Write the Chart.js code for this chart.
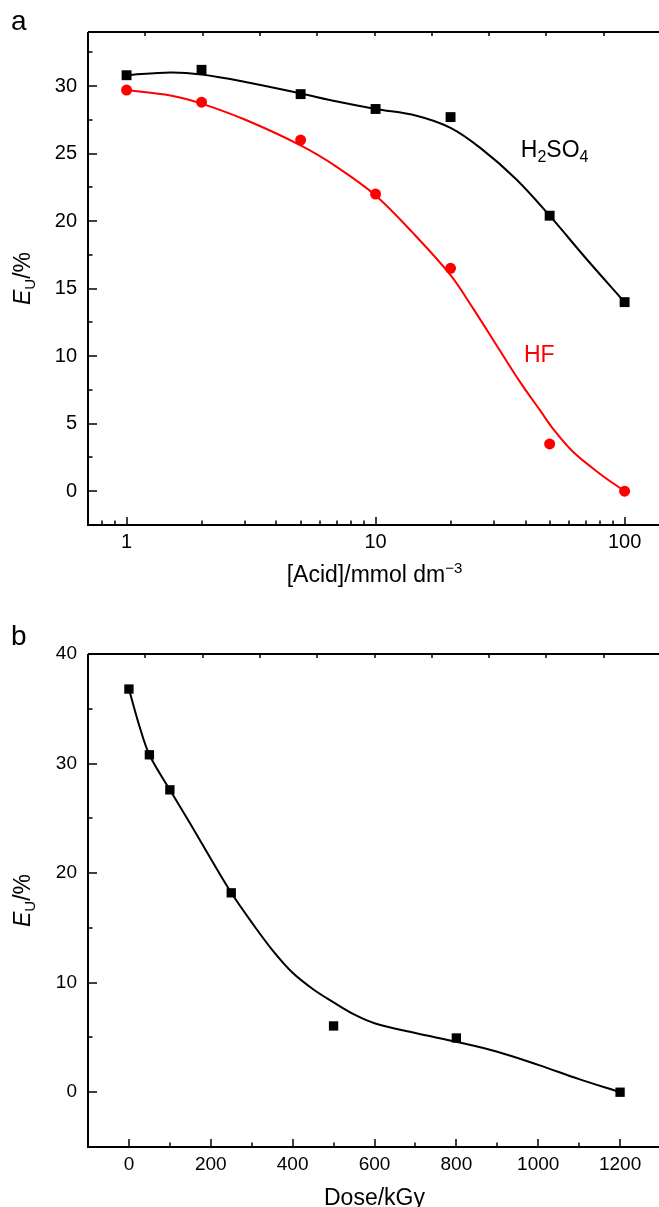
<!DOCTYPE html>
<html>
<head>
<meta charset="utf-8">
<script src="https://cdn.jsdelivr.net/npm/chart.js@4.4.0/dist/chart.umd.min.js"></script>
<style>
  body { margin: 0; background: #fff; overflow: hidden; width: 659px; height: 1207px; position: relative; }
  canvas { position: absolute; left: 0; }
  #chartA { top: 0; }
  #chartB { top: 600px; }
</style>
</head>
<body>
<canvas id="chartA" width="661" height="600"></canvas>
<canvas id="chartB" width="661" height="607"></canvas>
<script>
const FONT = "'Liberation Sans', Arial, Helvetica, sans-serif"

// panel a - uranium extraction vs acid concentration
const acidConc = [1, 2, 5, 10, 20, 50, 100]
const h2so4Eu = [30.8, 31.2, 29.4, 28.3, 27.7, 20.4, 14.0]
const hfEu = [29.7, 28.8, 26.0, 22.0, 16.5, 3.5, 0]
// fitted curves
const h2so4FitConc = [1, 1.5, 2, 3, 5, 7, 10, 14.6, 20, 26.4, 36.7, 50, 71, 100]
const h2so4FitEu = [30.8, 31.0, 30.85, 30.3, 29.45, 28.85, 28.3, 27.8, 26.9, 25.4, 23.1, 20.4, 17.1, 14.0]
const hfFitConc = [1, 1.5, 2, 3, 5, 7, 10, 14, 20, 24.7, 31.6, 38, 45.7, 51.7, 62.2, 79.5, 100]
const hfFitEu = [29.7, 29.3, 28.7, 27.5, 25.6, 24.0, 21.9, 19.2, 16.0, 13.5, 10.4, 8.1, 6.0, 4.6, 2.9, 1.3, 0]
const acidTicks = [1, 10, 100]
const acidMinorTicks = [0.8, 0.9, 2, 3, 4, 5, 6, 7, 8, 9, 20, 30, 40, 50, 60, 70, 80, 90]
const euTicksA = [0, 5, 10, 15, 20, 25, 30]
const euMinorA = [2.5, 7.5, 12.5, 17.5, 22.5, 27.5, 32.5]

// panel b - extraction vs absorbed dose
const dose = [0, 50, 100, 250, 500, 800, 1200]
const doseEu = [36.8, 30.8, 27.6, 18.2, 6.05, 4.95, 0]
const doseFit = [0, 25, 50, 100, 150, 200, 250, 300, 350, 400, 450, 500, 550, 600, 700, 800, 900, 1000, 1100, 1200]
const doseFitEu = [36.8, 33.5, 30.8, 27.6, 24.5, 21.3, 18.2, 15.5, 13.0, 10.9, 9.4, 8.2, 7.1, 6.3, 5.4, 4.6, 3.7, 2.5, 1.2, 0]
const doseTicks = [0, 200, 400, 600, 800, 1000, 1200]
const doseMinorTicks = [100, 300, 500, 700, 900, 1100]
const euTicksB = [0, 10, 20, 30, 40]
const euMinorB = [5, 15, 25, 35]

function pts(xs, ys){
    return xs.map((x, i) => ({x: x, y: ys[i]}))
}

function fontOf(p){
    return (p.italic ? 'italic ' : '') + p.size + 'px ' + FONT
}

// draws a run of text pieces (sub/superscripts via dy)
function richText(ctx, parts, x, y, align){
    let w = 0
    parts.forEach(p => { ctx.font = fontOf(p); w += ctx.measureText(p.t).width })
    let cx = align === 'center' ? x - w / 2 : x
    ctx.textAlign = 'left'
    ctx.textBaseline = 'alphabetic'
    parts.forEach(p => {
        ctx.font = fontOf(p)
        ctx.fillText(p.t, cx, y + (p.dy || 0))
        cx += ctx.measureText(p.t).width
    })
}

// axis frame with inward ticks, titles and panel notes
const framePlugin = {
    id: 'frame',
    afterDraw(chart, args, o){
        const ctx = chart.ctx
        const a = chart.chartArea
        const sx = chart.scales.x, sy = chart.scales.y
        ctx.save()
        ctx.strokeStyle = '#000'
        ctx.lineWidth = 2
        ctx.beginPath()
        ctx.moveTo(a.left, a.top); ctx.lineTo(a.right + 4, a.top)
        ctx.moveTo(a.left, a.top); ctx.lineTo(a.left, a.bottom); ctx.lineTo(a.right + 4, a.bottom)
        ctx.stroke()

        ctx.lineWidth = 1.5
        ctx.beginPath()
        o.xMajor.forEach(v => { const p = Math.round(sx.getPixelForValue(v)); ctx.moveTo(p, a.bottom); ctx.lineTo(p, a.bottom - 8) })
        o.xMinor.forEach(v => { const p = Math.round(sx.getPixelForValue(v)); ctx.moveTo(p, a.bottom); ctx.lineTo(p, a.bottom - 4.5) })
        o.yMajor.forEach(v => { const p = Math.round(sy.getPixelForValue(v)); ctx.moveTo(a.left, p); ctx.lineTo(a.left + 9, p) })
        o.yMinor.forEach(v => { const p = Math.round(sy.getPixelForValue(v)); ctx.moveTo(a.left, p); ctx.lineTo(a.left + 4.5, p) })
        for(let k = 1; k < 10; k++){
            const p = Math.round(a.left + k * (a.right - a.left) / 10)
            ctx.moveTo(p, a.top); ctx.lineTo(p, a.top + 4)
        }
        ctx.stroke()

        ctx.fillStyle = '#000'
        // panel letter
        richText(ctx, [{t: o.letter, size: 28}], 11, o.letterY, 'left')
        // x title
        richText(ctx, o.xTitle, (a.left + a.right) / 2, o.xTitleY, 'center')
        // y title, rotated
        ctx.save()
        ctx.translate(30, (a.top + a.bottom) / 2)
        ctx.rotate(-Math.PI / 2)
        richText(ctx, [{t: 'E', size: 23, italic: true}, {t: 'U', size: 15, dy: 5}, {t: '/%', size: 23}], 0, 0, 'center')
        ctx.restore()
        // curve names
        ;(o.notes || []).forEach(n => {
            ctx.fillStyle = n.color
            richText(ctx, n.parts, sx.getPixelForValue(n.x), sy.getPixelForValue(n.y), 'left')
        })
        ctx.restore()
    }
}

function tickFont(size){
    return {family: FONT, size: size}
}

// keep the plot box fixed: no extra room for edge labels
function noPad(s){
    s.paddingLeft = 0; s.paddingRight = 0; s.paddingTop = 0; s.paddingBottom = 0
}

// panel a
new Chart(document.getElementById('chartA'), {
    type: 'line',
    data: {
        datasets: [
            {label: 'H2SO4 data', data: pts(acidConc, h2so4Eu), showLine: false, pointStyle: 'rect',
             pointRadius: 7, pointBackgroundColor: '#000', pointBorderWidth: 0},
            {label: 'HF data', data: pts(acidConc, hfEu), showLine: false, pointStyle: 'circle',
             pointRadius: 5.5, pointBackgroundColor: '#ff0000', pointBorderWidth: 0},
            {label: 'H2SO4 fit', data: pts(h2so4FitConc, h2so4FitEu), borderColor: '#000', borderWidth: 2,
             pointRadius: 0, tension: 0.35},
            {label: 'HF fit', data: pts(hfFitConc, hfFitEu), borderColor: '#ff0000', borderWidth: 2,
             pointRadius: 0, tension: 0.35}
        ]
    },
    options: {
        responsive: false,
        animation: false,
        devicePixelRatio: 1,
        layout: {autoPadding: false, padding: {top: 32, right: 0, left: 0, bottom: 0}},
        scales: {
            x: {
                type: 'logarithmic', min: 0.7, max: 140,
                grid: {display: false, drawTicks: false}, border: {display: false},
                afterBuildTicks: s => { s.ticks = acidTicks.map(v => ({value: v})) },
                afterFit: s => { s.height = 75; noPad(s) },
                ticks: {color: '#000', font: tickFont(20), padding: 5, maxRotation: 0, autoSkip: false,
                        callback: v => String(v)}
            },
            y: {
                type: 'linear', min: -2.5, max: 34,
                grid: {display: false, drawTicks: false}, border: {display: false},
                afterBuildTicks: s => { s.ticks = euTicksA.map(v => ({value: v})) },
                afterFit: s => { s.width = 88; noPad(s) },
                ticks: {color: '#000', font: tickFont(20), padding: 11}
            }
        },
        plugins: {
            legend: {display: false},
            tooltip: {enabled: false},
            frame: {
                letter: 'a', letterY: 30,
                xMajor: acidTicks, xMinor: acidMinorTicks, yMajor: euTicksA, yMinor: euMinorA,
                xTitle: [{t: '[Acid]/mmol dm', size: 23}, {t: '\u22123', size: 15, dy: -9}],
                xTitleY: 582,
                notes: [
                    {x: 38.3, y: 24.76, color: '#000',
                     parts: [{t: 'H', size: 23}, {t: '2', size: 16, dy: 5}, {t: 'SO', size: 23}, {t: '4', size: 16, dy: 5}]},
                    {x: 39.4, y: 9.56, color: '#ff0000', parts: [{t: 'HF', size: 23}]}
                ]
            }
        }
    },
    plugins: [framePlugin]
})

// panel b
new Chart(document.getElementById('chartB'), {
    type: 'line',
    data: {
        datasets: [
            {label: 'data', data: pts(dose, doseEu), showLine: false, pointStyle: 'rect',
             pointRadius: 6.6, pointBackgroundColor: '#000', pointBorderWidth: 0},
            {label: 'fit', data: pts(doseFit, doseFitEu), borderColor: '#000', borderWidth: 2,
             pointRadius: 0, tension: 0.35}
        ]
    },
    options: {
        responsive: false,
        animation: false,
        devicePixelRatio: 1,
        layout: {autoPadding: false, padding: {top: 54, right: 0, left: 0, bottom: 0}},
        scales: {
            x: {
                type: 'linear', min: -100, max: 1300,
                grid: {display: false, drawTicks: false}, border: {display: false},
                afterBuildTicks: s => { s.ticks = doseTicks.map(v => ({value: v})) },
                afterFit: s => { s.height = 60; noPad(s) },
                ticks: {color: '#000', font: tickFont(19), padding: 6, maxRotation: 0, autoSkip: false,
                        callback: v => String(v)}
            },
            y: {
                type: 'linear', min: -5, max: 40,
                grid: {display: false, drawTicks: false}, border: {display: false},
                afterBuildTicks: s => { s.ticks = euTicksB.map(v => ({value: v})) },
                afterFit: s => { s.width = 88; noPad(s) },
                ticks: {color: '#000', font: tickFont(19), padding: 11}
            }
        },
        plugins: {
            legend: {display: false},
            tooltip: {enabled: false},
            frame: {
                letter: 'b', letterY: 45,
                xMajor: doseTicks, xMinor: doseMinorTicks, yMajor: euTicksB, yMinor: euMinorB,
                xTitle: [{t: 'Dose/kGy', size: 23}],
                xTitleY: 605
            }
        }
    },
    plugins: [framePlugin]
})
</script>
</body>
</html>
